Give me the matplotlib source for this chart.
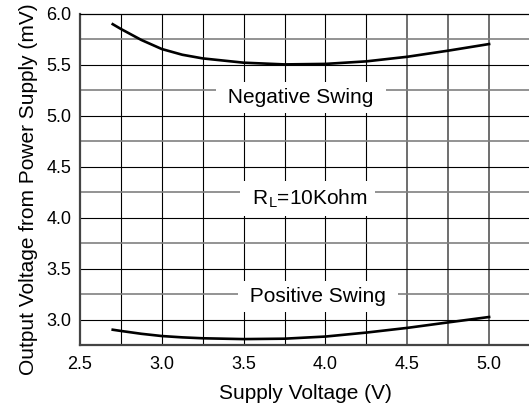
import matplotlib
matplotlib.use('Agg')
import matplotlib.pyplot as plt
import numpy as np

plt.rcParams['font.family'] = ['Liberation Sans', 'DejaVu Sans']

# supply voltage (V) and output swing from rails (mV)
supply_v = [2.7, 2.75, 2.875, 3.0, 3.125, 3.25, 3.5, 3.75, 4.0, 4.25, 4.5, 4.75, 5.0]
neg_swing = [5.90, 5.853, 5.745, 5.656, 5.60, 5.564, 5.522, 5.505, 5.51, 5.535,
             5.58, 5.64, 5.705]
pos_swing = [2.90, 2.888, 2.86, 2.838, 2.825, 2.816, 2.808, 2.812, 2.833, 2.872,
             2.918, 2.972, 3.025]

x_ticks = [2.5, 3.0, 3.5, 4.0, 4.5, 5.0]
y_ticks = [3.0, 3.5, 4.0, 4.5, 5.0, 5.5, 6.0]

fig = plt.figure(figsize=(5.29, 4.09), dpi=100)
ax = fig.add_axes([80 / 529, 1 - 345 / 409, 450 / 529, 331 / 409])
ax.set_xlim(2.5, 5.25)
ax.set_ylim(2.75, 6.0)

# grid: black thin lines, gray thicker ones for the 0.25 rows and right columns
for xv in np.arange(2.75, 5.26, 0.25):
    if xv < 4.4:
        ax.axvline(xv, color='black', lw=0.8, zorder=1)
    else:
        ax.axvline(xv, color='#555555', lw=1.2, zorder=1)
for yv in np.arange(3.0, 6.0, 0.25):
    if abs(yv * 2 - round(yv * 2)) < 1e-6:
        ax.axhline(yv, color='black', lw=0.8, zorder=1)
    else:
        ax.axhline(yv, color='#808080', lw=1.2, zorder=1)

ax.plot(supply_v, neg_swing, color='black', lw=1.9, zorder=3)
ax.plot(supply_v, pos_swing, color='black', lw=1.9, zorder=3)

box = dict(boxstyle='square,pad=0.3', facecolor='white', edgecolor='none')
ax.text(3.85, 5.125, ' Negative Swing ', fontsize=15, ha='center', va='baseline',
        bbox=box, zorder=4)
ax.text(3.89, 4.132, r' R$_\mathregular{L}$=10Kohm ', fontsize=15, ha='center',
        va='baseline', bbox=box, zorder=4)
ax.text(3.955, 3.17, ' Positive Swing ', fontsize=15, ha='center', va='baseline',
        bbox=box, zorder=4)

ax.set_xticks(x_ticks)
ax.set_xticklabels(['%.1f' % v for v in x_ticks])
ax.set_yticks(y_ticks)
ax.set_yticklabels(['%.1f' % v for v in y_ticks])
ax.tick_params(length=0, labelsize=13)
ax.tick_params(axis='x', pad=8)
ax.tick_params(axis='y', pad=6)

ax.spines['right'].set_visible(False)
ax.spines['top'].set_color('black')
ax.spines['top'].set_linewidth(0.9)
for s in ['left', 'bottom']:
    ax.spines[s].set_color('#444444')
    ax.spines[s].set_linewidth(1.6)

ax.set_xlabel('Supply Voltage (V)', fontsize=15)
ax.set_ylabel('Output Voltage from Power Supply (mV)', fontsize=15)
ax.yaxis.set_label_coords(-0.094, 0.47)
ax.xaxis.set_label_coords(0.5, -0.118)

plt.savefig('out.png', dpi=100)
